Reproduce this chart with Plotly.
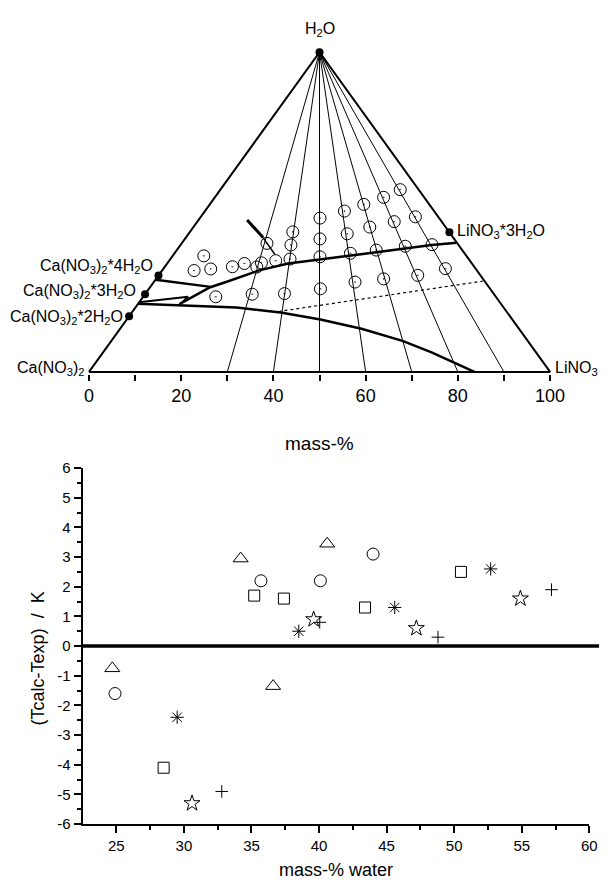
import plotly.graph_objects as go

# ---------------- top: ternary-like phase diagram (x = mass-% position, w = water mass-%) -------------
tie_base = [30, 40, 50, 60, 70, 80, 90]

circ_x = [24.9, 22.8, 26.4, 31.1, 33.7, 36.4, 37.4, 38.6, 40.5, 43.6, 43.8, 44.2,
          50.1, 50.1, 50.1, 55.4, 56.0, 56.7, 59.6, 60.9, 62.3, 63.9, 66.2, 68.6,
          67.5, 70.8, 74.4, 77.3, 71.3, 63.9, 57.7, 50.2, 42.4, 35.4, 27.5]
circ_w = [36.3, 31.7, 32.2, 32.9, 33.9, 32.8, 34.1, 40.2, 34.8, 35.3, 39.7, 43.8,
          48.1, 41.6, 36.0, 50.3, 43.2, 37.1, 52.4, 45.3, 38.1, 54.6, 47.0, 39.3,
          57.0, 48.5, 39.8, 32.3, 30.2, 29.1, 28.1, 26.0, 24.5, 24.3, 23.5]

main_x = [19.6, 26.3, 29.9, 36.9, 43.2, 50.2, 56.8, 62.3, 68.4, 74.3, 79.8]
main_w = [21.2, 26.5, 28.2, 31.75, 33.9, 35.3, 36.4, 37.4, 38.65, 39.7, 40.4]

low_x = [10.6, 19.4, 32.0, 41.55, 50.2, 59.1, 68.0, 74.3, 80.6, 83.6]
low_w = [21.3, 20.9, 20.15, 18.56, 16.4, 13.5, 9.72, 6.13, 2.15, 0.0]

wedge_x = [10.8, 21.5, 19.8]
wedge_w = [21.8, 23.5, 21.2]

tetra_x = [14.45, 26.4]
tetra_w = [28.8, 26.6]

dot_x = [41.1, 85.4]
dot_w = [18.9, 28.4]

arrow_x = [34.3, 37.75]
arrow_w = [47.55, 42.0]
arrow2_x = [37.75, 40.3]
arrow2_w = [42.0, 36.8]

hyd_x = [50.0, 15.07, 12.16, 8.7, 78.17]
hyd_w = [100.0, 30.15, 24.33, 17.39, 43.65]

top_ticks = [0, 20, 40, 60, 80, 100]
top_minor = [10, 30, 50, 70, 90]

# ---------------- bottom: deviations ----------------
tri_x = [24.7, 34.2, 36.6, 40.6]
tri_y = [-0.75, 2.95, -1.35, 3.45]
cir_x = [24.9, 35.7, 40.1, 44.0]
cir_y = [-1.6, 2.2, 2.2, 3.1]
sq_x = [28.5, 35.2, 37.4, 43.4, 50.5]
sq_y = [-4.1, 1.7, 1.6, 1.3, 2.5]
ast_x = [29.5, 38.5, 45.6, 52.7]
ast_y = [-2.4, 0.5, 1.3, 2.6]
star_x = [30.6, 39.6, 47.2, 54.9]
star_y = [-5.3, 0.9, 0.6, 1.6]
plus_x = [32.8, 40.05, 48.8, 57.2]
plus_y = [-4.9, 0.8, 0.3, 1.9]

bx_ticks = [25, 30, 35, 40, 45, 50, 55, 60]
bx_minor = [27.5, 32.5, 37.5, 42.5, 47.5, 52.5, 57.5]
by_ticks = [-6, -5, -4, -3, -2, -1, 0, 1, 2, 3, 4, 5, 6]
by_text = ["-6", "-5", "-4", "-3", "-2", "-1", "0", "1", "2", "3", "4", "5", "6"]
by_minor = [v + 0.5 for v in range(-6, 6)]

FONT = "Liberation Sans, Arial, sans-serif"
fig = go.Figure()

def tline(x, y, width, dash=None):
    fig.add_trace(go.Scatter(x=x, y=y, mode="lines", xaxis="x", yaxis="y",
                             line=dict(color="black", width=width, dash=dash),
                             hoverinfo="skip"))

# tie lines from the H2O apex
for b in tie_base:
    tline([50, b], [100, 0], 1)
# triangle
tline([0, 50, 100, 0], [0, 100, 0, 0], 2)
# phase boundaries
tline(main_x, main_w, 2.5)
tline(low_x, low_w, 2.5)
tline(wedge_x, wedge_w, 2)
tline(tetra_x, tetra_w, 2.5)
tline(dot_x, dot_w, 1.2, "dot")
tline(arrow_x, arrow_w, 3)
tline(arrow2_x, arrow2_w, 1.5)

fig.add_trace(go.Scatter(x=circ_x, y=circ_w, mode="markers", xaxis="x", yaxis="y",
                         marker=dict(symbol="circle-open-dot", size=12, color="black",
                                     line=dict(width=1, color="black")),
                         cliponaxis=False))
fig.add_trace(go.Scatter(x=hyd_x, y=hyd_w, mode="markers", xaxis="x", yaxis="y",
                         marker=dict(symbol="circle", size=8, color="black"),
                         cliponaxis=False))

# bottom
def bpts(x, y, sym, size):
    fig.add_trace(go.Scatter(x=x, y=y, mode="markers", xaxis="x2", yaxis="y2",
                             marker=dict(symbol=sym, size=size, color="black",
                                         line=dict(width=1, color="black")),
                             cliponaxis=False))

bpts(tri_x, tri_y, "triangle-up-open", 13)
bpts(cir_x, cir_y, "circle-open", 12)
bpts(sq_x, sq_y, "square-open", 11)
bpts(ast_x, ast_y, "asterisk-open", 11)
bpts(star_x, star_y, "star-open", 12)
bpts(plus_x, plus_y, "cross-thin-open", 9)

W, H = 614, 888
def px(x):
    return x / W
def py(y):
    return 1 - y / H

ann = []
def label(text, x, y, xanchor, size=16):
    ann.append(dict(text=text, x=px(x), y=py(y), xref="paper", yref="paper",
                    xanchor=xanchor, yanchor="middle", showarrow=False,
                    font=dict(family=FONT, size=size, color="black")))

label("H<sub>2</sub>O", 325, 21, "center")
label("LiNO<sub>3</sub>*3H<sub>2</sub>O", 464, 227, "left")
label("Ca(NO<sub>3</sub>)<sub>2</sub>*4H<sub>2</sub>O", 156, 263, "right")
label("Ca(NO<sub>3</sub>)<sub>2</sub>*3H<sub>2</sub>O", 139, 288, "right")
label("Ca(NO<sub>3</sub>)<sub>2</sub>*2H<sub>2</sub>O", 125, 315, "right")
label("Ca(NO<sub>3</sub>)<sub>2</sub>", 86, 367, "right")
label("LiNO<sub>3</sub>", 565, 367, "left")
label("mass-%", 325, 443, "center", 19)
label("mass-% water", 342, 878, "center", 18)
ann.append(dict(text="(Tcalc-Texp)  /  K", x=px(36), y=py(662), xref="paper", yref="paper",
                xanchor="center", yanchor="middle", showarrow=False, textangle=-90,
                font=dict(family=FONT, size=18, color="black")))

fig.update_layout(
    width=W, height=H, autosize=False, margin=dict(l=0, r=0, t=0, b=0),
    paper_bgcolor="white", plot_bgcolor="white", showlegend=False,
    font=dict(family=FONT, color="black"),
    xaxis=dict(domain=[0.13995, 0.91868], range=[-0.5, 100.5], anchor="y",
               showline=False, showgrid=False, zeroline=False,
               tickmode="array", tickvals=top_ticks, ticks="outside", ticklen=6,
               tickwidth=1.5, tickcolor="black", tickfont=dict(size=18, family=FONT),
               minor=dict(tickmode="array", tickvals=top_minor, ticks="outside",
                          ticklen=6, tickwidth=1.5, tickcolor="black")),
    yaxis=dict(domain=[0.58112, 0.95412], range=[-0.6, 101], visible=False),
    xaxis2=dict(domain=[0.13306, 0.98046], range=[22.5, 60], anchor="y2",
                showline=True, linecolor="black", linewidth=2, showgrid=False, zeroline=False,
                tickmode="array", tickvals=bx_ticks, ticks="outside", ticklen=7,
                tickwidth=1.5, tickcolor="black", tickfont=dict(size=15, family=FONT),
                minor=dict(tickmode="array", tickvals=bx_minor, ticks="outside",
                           ticklen=4, tickwidth=1.5, tickcolor="black")),
    yaxis2=dict(domain=[0.06419, 0.47297], range=[-6, 6], anchor="x2",
                showline=True, linecolor="black", linewidth=2, showgrid=False, zeroline=False,
                tickmode="array", tickvals=by_ticks, ticktext=by_text, ticks="outside",
                ticklen=7, tickwidth=1.5, tickcolor="black", tickfont=dict(size=15, family=FONT),
                minor=dict(tickmode="array", tickvals=by_minor, ticks="outside",
                           ticklen=4, tickwidth=1.5, tickcolor="black")),
    annotations=ann,
    shapes=[dict(type="line", xref="paper", yref="y2", x0=px(82), x1=px(612), y0=0, y1=0,
                 line=dict(color="black", width=3.5), layer="above")],
)

post = ("document.documentElement.style.overflow='hidden';"
        "document.body.style.margin='0px';document.body.style.overflow='hidden';"
        "var gd=document.getElementById('{plot_id}');"
        "Plotly.relayout(gd,{width:614,height:888});")
fig.write_html("out.html", config={"displayModeBar": False, "responsive": False},
               post_script=post)
